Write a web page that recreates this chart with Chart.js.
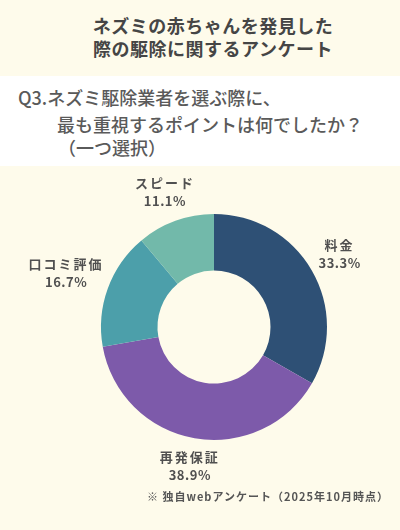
<!DOCTYPE html>
<html lang="ja">
<head>
<meta charset="utf-8">
<script src="https://cdn.jsdelivr.net/npm/chart.js@4"></script>
<style>
  html, body { margin: 0; padding: 0; }
  body {
    width: 400px; height: 530px; position: relative; overflow: hidden;
    background: #fefbeb;
    font-family: "Noto Sans CJK JP", "Noto Sans", sans-serif;
  }
  .title {
    position: absolute; left: 0; top: 14px; width: 426px;
    text-align: center; font-size: 18px; font-weight: 700; color: #454545;
    line-height: 23px; letter-spacing: 0.5px;
  }
  .question {
    position: absolute; left: 0; top: 76px; width: 400px; height: 90px;
    background: #ffffff; color: #5a5a5a; font-size: 18px; font-weight: 500;
    line-height: 25px;
  }
  .question div { position: absolute; white-space: nowrap; }
  .note {
    position: absolute; left: 147px; top: 488px; font-size: 11px; font-weight: 700;
    color: #555; letter-spacing: 1px; white-space: nowrap;
  }
  #wrap { position: absolute; left: 0; top: 166px; width: 400px; height: 364px; }
</style>
</head>
<body>
<div class="title">ネズミの赤ちゃんを発見した<br>際の駆除に関するアンケート</div>
<div class="question">
  <div style="left:18px; top:9px;">Q3.ネズミ駆除業者を選ぶ際に、</div>
  <div style="left:57px; top:36px;">最も重視するポイントは何でしたか？</div>
  <div style="left:58px; top:59px;">（一つ選択）</div>
</div>
<div id="wrap"><canvas id="pie"></canvas></div>
<div class="note">※ 独自webアンケート（2025年10月時点）</div>

<script>
// 選択肢と割合(%)
const labels = ['料金', '再発保証', '口コミ評価', 'スピード'];
const values = [33.3, 38.9, 16.7, 11.1];
const colors = ['#2e5075', '#7d5aaa', '#4c9faa', '#72b9aa'];

// ラベルをドーナツの外側に描く
const outsideLabels = {
    id: 'outsideLabels',
    afterDatasetsDraw(chart) {
        const ctx = chart.ctx;
        const meta = chart.getDatasetMeta(0);
        ctx.save();
        ctx.fillStyle = '#505050';
        ctx.textAlign = 'center';
        ctx.textBaseline = 'middle';
        meta.data.forEach((arc, i) => {
            const mid = (arc.startAngle + arc.endAngle) / 2;
            ctx.font = 'bold 13px "Noto Sans CJK JP"';
            ctx.letterSpacing = '2px';
            const w = ctx.measureText(labels[i]).width;
            const r = arc.outerRadius + 25 + Math.abs(Math.cos(mid)) * (w / 2) * 0.55;
            const x = arc.x + Math.cos(mid) * r;
            const y = arc.y + Math.sin(mid) * r;
            ctx.fillText(labels[i], x, y - 9);
            ctx.letterSpacing = '0.5px';
            ctx.fillText(values[i].toFixed(1) + '%', x, y + 9);
        });
        ctx.restore();
    }
};

const ctx = document.getElementById('pie').getContext('2d');
new Chart(ctx, {
    type: 'doughnut',
    data: {
        labels,
        datasets: [{
            data: values,
            backgroundColor: colors,
            borderWidth: 0
        }]
    },
    options: {
        responsive: true,
        maintainAspectRatio: false,
        animation: false,
        cutout: '50%',
        layout: { padding: { left: 101, right: 73, top: 48, bottom: 90 } },
        plugins: {
            legend: { display: false },
            tooltip: { enabled: false }
        }
    },
    plugins: [outsideLabels]
});
</script>
</body>
</html>
